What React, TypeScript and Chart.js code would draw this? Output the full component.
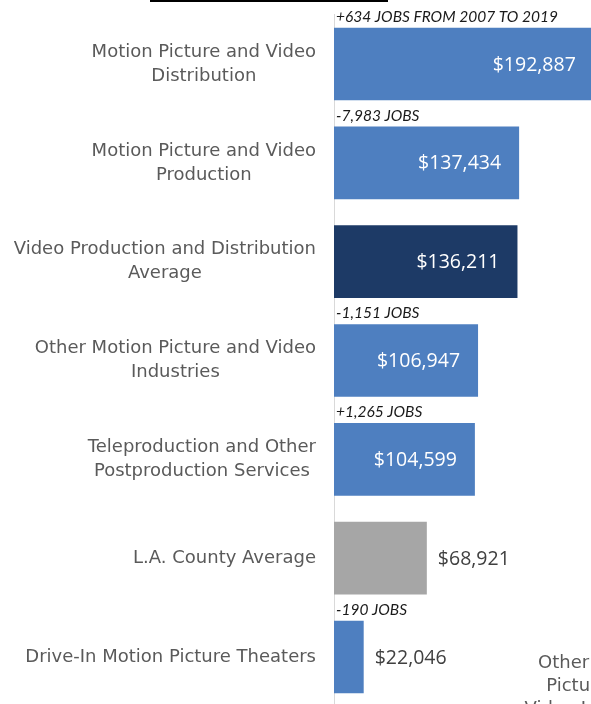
import React, { useEffect, useRef } from "react";
import { Chart, registerables } from "chart.js";

Chart.register(...registerables);

const categories: string[][] = [
  ["Motion Picture and Video", "Distribution"],
  ["Motion Picture and Video", "Production"],
  ["Video Production and Distribution", "Average"],
  ["Other Motion Picture and Video", "Industries"],
  ["Teleproduction and Other", "Postproduction Services"],
  ["L.A. County Average"],
  ["Drive-In Motion Picture Theaters"],
];

const averageWages: number[] = [192887, 137434, 136211, 106947, 104599, 68921, 22046];

const jobChangeLabels: string[] = [
  "+634 JOBS FROM 2007 TO 2019",
  "-7,983 JOBS",
  "",
  "-1,151 JOBS",
  "+1,265 JOBS",
  "",
  "-190 JOBS",
];

const barKinds: string[] = ["industry", "industry", "sectorAverage", "industry", "industry", "countyAverage", "industry"];

const neighbourChartLabel: string[] = ["Other Motion", "Picture and", "Video Industries"];

const KIND_COLORS: Record<string, string> = {
  industry: "#4e7fc0",
  sectorAverage: "#1d3a66",
  countyAverage: "#a6a6a6",
};

const LABEL_FONT = '18px "DejaVu Sans"';
const VALUE_FONT = '19.5px "Open Sans"';
const JOBS_FONT = 'italic 15.5px Lato';

const fmtMoney = (v: number) => "$" + v.toLocaleString("en-US");

const annotationPlugin = {
  id: "annotations",
  afterDraw(chart: any) {
    const ctx = chart.ctx as CanvasRenderingContext2D;
    const area = chart.chartArea;
    const yScale = chart.scales.y;
    const meta = chart.getDatasetMeta(0);

    ctx.save();
    // cut-off title underline at the top
    ctx.fillStyle = "#000";
    ctx.fillRect(150, 0, 238, 2);

    // category labels: block right-aligned, lines centred
    ctx.font = LABEL_FONT;
    ctx.fillStyle = "#5a5a5a";
    ctx.textBaseline = "middle";
    ctx.textAlign = "center";
    const lineH = 24;
    categories.forEach((lines, i) => {
      const cy = yScale.getPixelForValue(i);
      const maxW = Math.max(...lines.map((l) => ctx.measureText(l).width));
      const cx = area.left - 18 - maxW / 2;
      lines.forEach((l, k) => {
        ctx.fillText(l, cx, cy + (k - (lines.length - 1) / 2) * lineH);
      });
    });

    // value labels and job change labels
    meta.data.forEach((bar: any, i: number) => {
      const p = bar.getProps(["x", "y", "base", "height"], true);
      const width = p.x - p.base;
      ctx.font = VALUE_FONT;
      ctx.textBaseline = "middle";
      if (width > 120) {
        ctx.fillStyle = "#ffffff";
        ctx.textAlign = "right";
        ctx.fillText(fmtMoney(averageWages[i]), p.x - 18, p.y + 1);
      } else {
        ctx.fillStyle = "#404040";
        ctx.textAlign = "left";
        ctx.fillText(fmtMoney(averageWages[i]), p.x + 11, p.y + 1);
      }
      if (jobChangeLabels[i]) {
        ctx.font = JOBS_FONT;
        ctx.fillStyle = "#1a1a1a";
        ctx.textAlign = "left";
        ctx.fillText(jobChangeLabels[i], p.base + 2, p.y - p.height / 2 - 11);
      }
    });

    // label of the neighbouring chart, cut off at the right edge
    ctx.font = LABEL_FONT;
    ctx.fillStyle = "#5a5a5a";
    ctx.textAlign = "center";
    neighbourChartLabel.forEach((l, k) => {
      ctx.fillText(l, 597, 663 + k * 23);
    });
    ctx.restore();
  },
};

export default function App() {
  const ref = useRef<HTMLCanvasElement>(null);
  useEffect(() => {
    document.body.style.margin = "0";
    document.body.style.overflow = "hidden";
    const chart = new Chart(ref.current!, {
      type: "bar",
      data: {
        labels: categories.map((c) => c.join(" ")),
        datasets: [
          {
            data: averageWages,
            backgroundColor: barKinds.map((k) => KIND_COLORS[k]),
            borderWidth: 0,
            barPercentage: 0.735,
            categoryPercentage: 1,
          },
        ],
      },
      options: {
        indexAxis: "y",
        responsive: false,
        animation: false,
        layout: { padding: { top: 14.6, bottom: 5.6, left: 0, right: 0 } },
        plugins: {
          legend: { display: false },
          tooltip: { enabled: false },
          title: { display: false },
        },
        scales: {
          x: {
            display: false,
            min: 0,
            max: 190800,
          },
          y: {
            display: true,
            grid: { display: false, drawTicks: false },
            border: { display: true, color: "#d9d9d9", width: 1 },
            ticks: { display: false },
            afterFit: (scale: any) => {
              scale.width = 334;
            },
          },
        },
      },
      plugins: [annotationPlugin],
    });
    return () => chart.destroy();
  }, []);
  return (
    <div
      style={{
        position: "fixed",
        left: 0,
        top: 0,
        width: 591,
        height: 704,
        overflow: "hidden",
        background: "#ffffff",
      }}
    >
      <canvas ref={ref} width={591} height={712} style={{ display: "block" }} />
    </div>
  );
}
